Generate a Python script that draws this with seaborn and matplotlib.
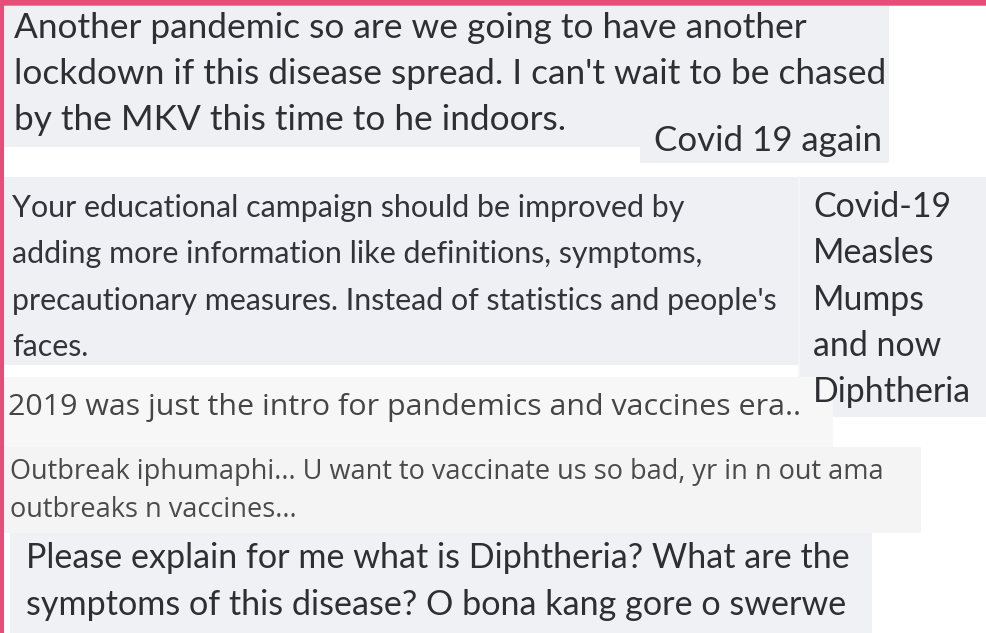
import matplotlib
matplotlib.use("Agg")
import matplotlib.pyplot as plt
from matplotlib.patches import Rectangle
import seaborn as sns

sns.set_theme(style="white")

# comment texts, one list per screenshot
comment_lockdown = [
    "Another pandemic so are we going to have another",
    "lockdown if this disease spread. I can't wait to be chased",
    "by the MKV this time to he indoors.",
]
comment_covid_again = ["Covid 19 again"]
comment_campaign = [
    "Your educational campaign should be improved by",
    "adding more information like definitions, symptoms,",
    "precautionary measures. Instead of statistics and people's",
    "faces.",
]
comment_list = ["Covid-19", "Measles", "Mumps", "and now", "Diphtheria"]
comment_intro = ["2019 was just the intro for pandemics and vaccines era.."]
comment_outbreak = [
    "Outbreak iphumaphi... U want to vaccinate us so bad, yr in n out ama",
    "outbreaks n vaccines...",
]
comment_explain = [
    "Please explain for me what is Diphtheria? What are the",
    "symptoms of this disease? O bona kang gore o swerwe",
]

W, H = 986, 633
PINK = "#E34F78"
BOX = "#EEF0F4"

fig = plt.figure(figsize=(W / 100, H / 100), dpi=100)
fig.patch.set_facecolor("white")
ax = fig.add_axes([0, 0, 1, 1])
ax.set_xlim(0, W)
ax.set_ylim(H, 0)
ax.axis("off")
renderer = fig.canvas.get_renderer()


def box(x0, y0, x1, y1, color):
    ax.add_patch(Rectangle((x0, y0), x1 - x0, y1 - y0, color=color, lw=0))


def block(lines, x, baselines, width, family, color, ref=0):
    # size the font so the reference line spans the given width
    t = ax.text(0, 0, lines[ref], fontsize=20, family=family)
    size = 20 * width / t.get_window_extent(renderer).width
    t.remove()
    for line, y in zip(lines, baselines):
        ax.text(x, y, line, fontsize=size, family=family, color=color,
                va="baseline", ha="left")


# screenshot backgrounds
box(4, 5, 889, 147, BOX)
box(640, 147, 889, 163, BOX)
box(4, 177, 799, 365, BOX)
box(799, 177, 986, 417, BOX)
ax.plot([798.5, 798.5], [177, 417], color="#F6F7F9", lw=1.2)
box(4, 377, 833, 447, "#F7F7F7")
box(4, 447, 921, 533, "#F4F4F4")
box(10, 533, 872, 633, "#EFF1F5")

# pink frame
box(0, 0, W, 5, PINK)
box(0, 5, W, 6, "#EC7F9C")
box(0, 0, 4, H, PINK)

block(comment_lockdown, 14, [38, 84, 130], 794, "Lato", "#2E2E33")
block(comment_covid_again, 654, [151], 228, "Lato", "#2E2E33")
block(comment_campaign, 12, [217, 263, 310, 356], 766,
      ["Liberation Sans Narrow", "Lato"], "#33343A", ref=2)
block(comment_list, 813, [217, 263, 310, 356, 402], 159, "Lato", "#2E2E33", ref=4)
block(comment_intro, 8, [415], 789, "Open Sans", "#454545")
block(comment_outbreak, 10, [479, 517], 873, "Open Sans", "#4A4A4A")
block(comment_explain, 26, [568, 615], 826, "Lato", "#2E2E33")

fig.savefig("out.png", dpi=100, facecolor="white")
